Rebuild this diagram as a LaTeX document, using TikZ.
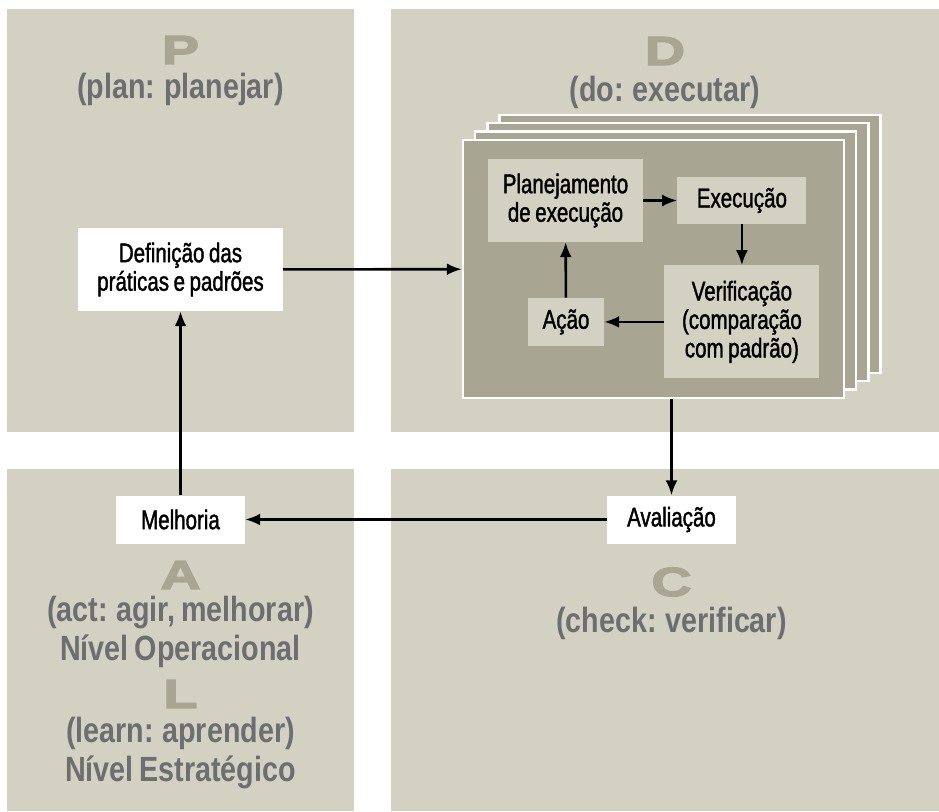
\documentclass[tikz,border=0pt]{standalone}
\usepackage{fontspec}
\setmainfont{Liberation Sans}
\newfontfamily\headfont{Liberation Sans Bold}[FakeStretch=0.82,WordSpace=0.75]
\newfontfamily\letterfont{Liberation Sans Bold}[FakeStretch=1.38,FakeBold=3.5]
\newfontfamily\boxfont{Liberation Sans}[FakeStretch=0.76,FakeBold=1.4,WordSpace=0.8]
\usepackage{xcolor}
\usetikzlibrary{positioning,arrows.meta}

\definecolor{quadbg}{HTML}{D3D1C2}
\definecolor{pagefill}{HTML}{A8A692}
\definecolor{subgray}{HTML}{6D6E71}

\begin{document}
\begin{tikzpicture}[x=1pt, y=-1pt, >={Latex[length=15pt,width=12pt]}, node distance=34pt,
    quad/.style={fill=quadbg},
    page/.style={fill=pagefill, draw=white, line width=2.5pt},
    letter/.style={text=pagefill, inner sep=0pt, font=\letterfont\fontsize{40.5}{40}\selectfont},
    phase/.style={text=subgray, align=center, inner sep=0pt, font=\headfont\fontsize{35}{38.5}\selectfont},
    wbox/.style={fill=white, inner sep=0pt, align=center, font=\boxfont\fontsize{27}{28.5}\selectfont},
    gbox/.style={fill=quadbg, inner sep=0pt, align=center, font=\boxfont\fontsize{27}{28.5}\selectfont},
    link/.style={->, line width=2.6pt}]
    \useasboundingbox (0,0) rectangle (939,811);

    % quadrants
    \fill[quad] (7,9) rectangle (354,432);
    \fill[quad] (391,9) rectangle (939,432);
    \fill[quad] (7,469) rectangle (354,811);
    \fill[quad] (391,469) rectangle (939,811);

    % phase titles
    \node [letter] (p) at (180.5,50) {P};
    \node [phase] (plan) at (180.5,89) {(plan: planejar)};
    \node [letter] (d) at (665,51) {D};
    \node [phase] (do) at (665,92) {(do: executar)};
    \node [letter] (c) at (671.5,582) {C};
    \node [phase] (check) at (671.5,623) {(check: verificar)};
    \node [letter] (a) at (180.5,575) {A};
    \node [phase] (act) at (180.5,632) {(act: agir, melhorar)\\N\'ivel Operacional};
    \node [letter] (l) at (180.5,694) {L};
    \node [phase] (learn) at (180.5,753) {(learn: aprender)\\N\'ivel Estrat\'egico};

    % pages of the do-stack
    \foreach \k in {3,2,1}
        \draw [page] (463+12.2*\k,140-8.4*\k) rectangle (844+12.2*\k,398-8.4*\k);
    \node [page, minimum width=381pt, minimum height=258pt, inner sep=0pt] (stack) at (653.5,269) {};

    % inner cycle
    \node [gbox, minimum width=155pt, minimum height=83pt] (planning) at (565.5,200.5) {Planejamento\\de execução};
    \node [gbox, minimum width=129pt, minimum height=47pt, right=34pt of planning] (exec) {Execução};
    \node [gbox, minimum width=155pt, minimum height=113pt, below=41pt of exec] (verif) {Verificação\\(comparação\\com padrão)};
    \node [gbox, minimum width=76pt, minimum height=48pt, left=60pt of verif] (acao) {Ação};

    % outer cycle
    \node [wbox, minimum width=205pt, minimum height=83pt] (defn) at (180.5,269.5) {Definição das\\práticas e padrões};
    \node [wbox, minimum width=129pt, minimum height=48pt] (aval) at (671.5,519.5) {Avaliação};
    \node [wbox, minimum width=129pt, minimum height=48pt] (melh) at (180.5,519.5) {Melhoria};

    \draw [link] (planning) -- (exec);
    \draw [link] (exec) -- (verif);
    \draw [link] (verif) -- (acao);
    \draw [link] (acao) -- (planning);

    \draw [link] (defn) -- (stack);
    \draw [link] (stack.south -| aval.north) -- (aval.north);
    \draw [link] (aval) -- (melh);
    \draw [link] (melh) -- (defn);
\end{tikzpicture}
\end{document}
